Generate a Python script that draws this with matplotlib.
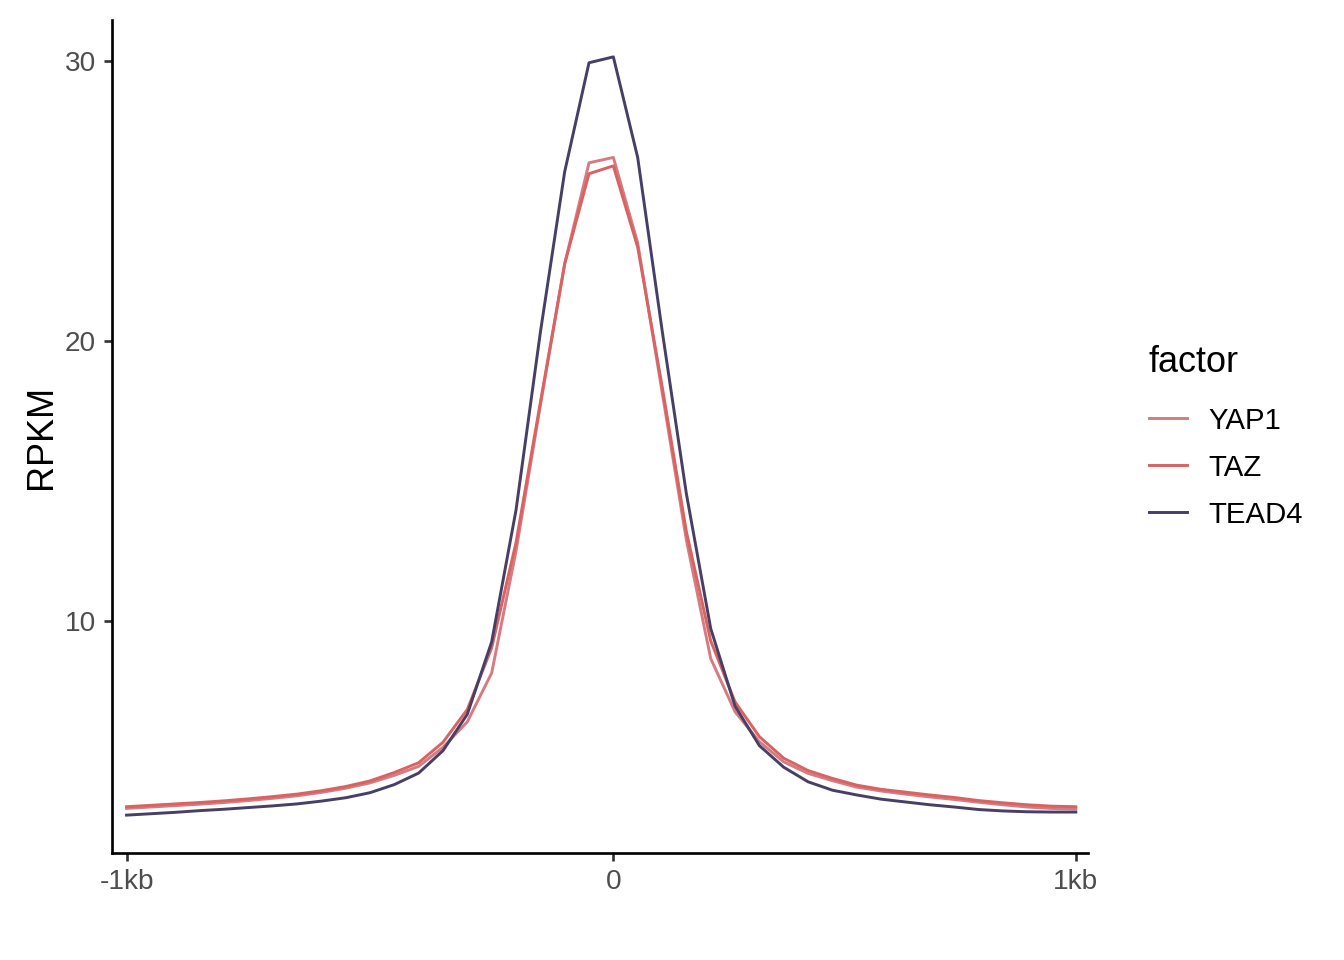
import matplotlib
matplotlib.use("Agg")
import matplotlib.pyplot as plt

plt.rcParams['font.family'] = ['Liberation Sans', 'DejaVu Sans']

# bin index along the +/-1kb window around the peak centre
bins = list(range(40))
tick_pos = [0, 20, 39]
tick_labels = ["-1kb", "0", "1kb"]

yap1 = [3.32, 3.37, 3.42, 3.47, 3.53, 3.60, 3.68, 3.77, 3.89, 4.04,
        4.23, 4.50, 4.82, 5.50, 6.41, 8.15, 12.5, 17.7, 22.75, 26.36,
        26.55, 23.5, 18.2, 12.9, 8.67, 6.77, 5.70, 4.98, 4.57, 4.31,
        4.08, 3.94, 3.83, 3.73, 3.64, 3.54, 3.45, 3.37, 3.32, 3.30]
taz = [3.38, 3.43, 3.48, 3.53, 3.59, 3.66, 3.74, 3.83, 3.95, 4.10,
       4.30, 4.60, 4.95, 5.68, 6.85, 9.05, 12.8, 17.8, 22.75, 25.97,
       26.25, 23.35, 18.4, 13.2, 9.3, 7.12, 5.88, 5.11, 4.67, 4.39,
       4.15, 4.00, 3.90, 3.80, 3.71, 3.60, 3.52, 3.45, 3.40, 3.38]
tead4 = [3.08, 3.13, 3.18, 3.24, 3.29, 3.35, 3.41, 3.48, 3.58, 3.70,
         3.88, 4.17, 4.58, 5.38, 6.68, 9.26, 13.96, 20.3, 26.04, 29.93,
         30.14, 26.55, 20.4, 14.55, 9.74, 6.97, 5.56, 4.79, 4.27, 3.97,
         3.80, 3.65, 3.55, 3.45, 3.37, 3.28, 3.23, 3.20, 3.19, 3.19]

factors = ["YAP1", "TAZ", "TEAD4"]
colors = ["#D67B80", "#D96262", "#473F66"]

fig = plt.figure(figsize=(7, 5), dpi=192)
ax = fig.add_axes([0.0833, 0.1115, 0.7262, 0.8675])

for name, vals, col in zip(factors, [yap1, taz, tead4], colors):
    ax.plot(bins, vals, color=col, lw=1.1, label=name)

ax.set_xlim(-0.6, 39.5)
ax.set_ylim(1.73, 31.45)
ax.set_xticks(tick_pos)
ax.set_xticklabels(tick_labels)
ax.set_yticks([10, 20, 30])
ax.set_ylabel("RPKM", fontsize=13.5, labelpad=2)

for side in ["top", "right"]:
    ax.spines[side].set_visible(False)
for side in ["left", "bottom"]:
    ax.spines[side].set_linewidth(1.0)
ax.tick_params(axis="both", length=3.0, width=1.0, color="#333333",
               labelsize=10.5, labelcolor="#4D4D4D", pad=3)

leg = ax.legend(title="factor", loc="center left",
                bbox_to_anchor=(0.835, 0.545), bbox_transform=fig.transFigure,
                frameon=False, fontsize=11, title_fontsize=13.5,
                handlelength=1.3, handletextpad=0.75, labelspacing=0.65,
                alignment="left")
leg._legend_box.sep = 10

fig.savefig("out.png", dpi=192)
